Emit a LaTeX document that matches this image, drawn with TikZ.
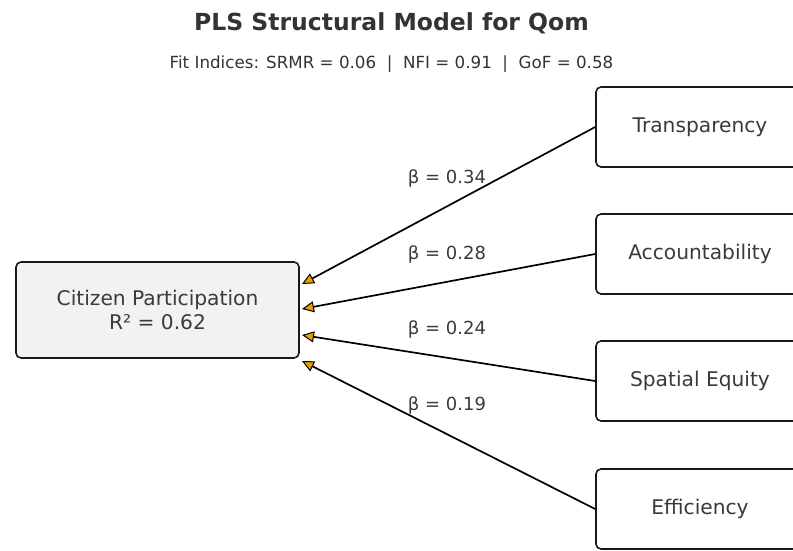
\documentclass[tikz,border=0pt]{standalone}
\usepackage{fontspec}
\setmainfont{DejaVu Sans}
\usetikzlibrary{arrows.meta}
\definecolor{txt}{HTML}{333333}
\definecolor{boxtxt}{HTML}{3A3A3A}
\definecolor{cpfill}{HTML}{F2F2F2}
\definecolor{arrowc}{HTML}{E69F00}
\tikzset{
  outer/.style={draw=black!90, line width=1.6pt, rounded corners=5pt, text=boxtxt,
    font=\fontsize{20.2}{23.5}\selectfont, align=center, inner sep=0pt},
  rbox/.style={outer, fill=white, minimum width=208pt, minimum height=80pt},
  cpbox/.style={outer, fill=cpfill, minimum width=283pt, minimum height=96pt},
  path/.style={draw=black, line width=1.7pt,
    -{Triangle[length=12pt,width=11pt,fill=arrowc,line width=1pt]}},
  blabel/.style={text=boxtxt, font=\fontsize{18}{21}\selectfont, inner sep=0pt}
}
\begin{document}
\begin{tikzpicture}[x=1pt,y=-1pt]
\clip (0,0) rectangle (793,551);
\useasboundingbox (0,0) rectangle (793,551);
\node[text=txt, font=\fontsize{23.5}{27}\selectfont\bfseries] (title) at (391.5,23) {PLS Structural Model for Qom};
\node[text=txt, font=\fontsize{16.7}{19}\selectfont] (sub) at (391.5,64) {Fit Indices: SRMR = 0.06\ \ |\ \ NFI = 0.91\ \ |\ \ GoF = 0.58};
\node[cpbox] (cp) at (157.5,310) {Citizen Participation\\R² = 0.62};
\node[rbox] (tr) at (700,127) {Transparency};
\node[rbox] (ac) at (700,254) {Accountability};
\node[rbox] (se) at (700,381) {Spatial Equity};
\node[rbox] (ef) at (700,509) {Efficiency};
\coordinate (t1) at (302,284);
\coordinate (t2) at (302,309);
\coordinate (t3) at (302,335);
\coordinate (t4) at (302,361);
\draw[path] (tr.west) -- (t1);
\draw[path] (ac.west) -- (t2);
\draw[path] (se.west) -- (t3);
\draw[path] (ef.west) -- (t4);
\node[blabel] (b1) at (447,178) {β = 0.34};
\node[blabel] (b2) at (447,254) {β = 0.28};
\node[blabel] (b3) at (447,329) {β = 0.24};
\node[blabel] (b4) at (447,405) {β = 0.19};
\end{tikzpicture}
\end{document}
